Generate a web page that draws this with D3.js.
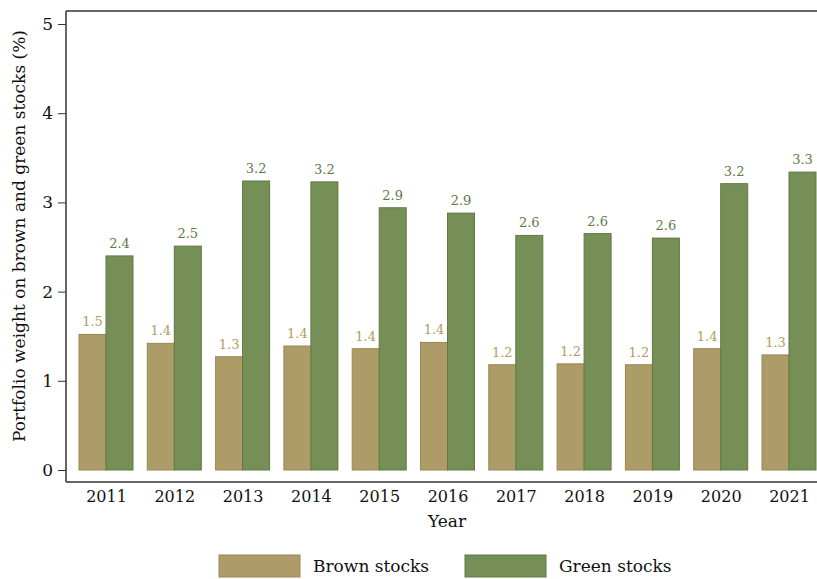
<!DOCTYPE html>
<html>
<head>
<meta charset="utf-8">
<script src="https://cdn.jsdelivr.net/npm/d3@7"></script>
<style>
  body { margin: 0; background: #fff; }
  text { font-family: "DejaVu Serif", "Liberation Serif", serif; }
</style>
</head>
<body>
<script>
// values
const years = ["2011", "2012", "2013", "2014", "2015", "2016", "2017", "2018", "2019", "2020", "2021"];
const brown = [1.52, 1.42, 1.27, 1.39, 1.36, 1.43, 1.18, 1.19, 1.18, 1.36, 1.29];
const green = [2.40, 2.51, 3.24, 3.23, 2.94, 2.88, 2.63, 2.65, 2.60, 3.21, 3.34];
const yTicks = [0, 1, 2, 3, 4, 5];

const width = 817, height = 579;
const brownFill = "#ad9c68", brownLine = "#9a8653", brownText = "#b39c62";
const greenFill = "#758f57", greenLine = "#5f7b40", greenText = "#5d7a42";

const svg = d3.select("body").append("svg")
  .attr("width", width)
  .attr("height", height);

const x = d3.scalePoint().domain(years).range([106, 789]);
const y = d3.scaleLinear().domain([0, 5]).range([470, 24]);
const barW = 27;
const fmt = d3.format(".1f");

// frame
svg.append("line").attr("x1", 66).attr("x2", width).attr("y1", 11).attr("y2", 11)
  .attr("stroke", "#333").attr("stroke-width", 1.5);
svg.append("line").attr("x1", 66).attr("x2", width).attr("y1", 482).attr("y2", 482)
  .attr("stroke", "#333").attr("stroke-width", 1.5);

// y axis
const yAxis = svg.append("g")
  .attr("transform", "translate(66,0)")
  .call(d3.axisLeft(y).tickValues(yTicks).tickFormat(d3.format("d")).tickSize(8).tickPadding(5));
yAxis.select(".domain").attr("d", "M0,11V482").attr("stroke", "#333").attr("stroke-width", 1.5);
yAxis.selectAll(".tick line").attr("stroke", "#333");
yAxis.selectAll(".tick text")
  .attr("font-family", "DejaVu Serif")
  .attr("font-size", 17).attr("fill", "#111");

// x axis labels
const xAxis = svg.append("g")
  .attr("transform", "translate(0,482)")
  .call(d3.axisBottom(x).tickSize(0).tickPadding(9));
xAxis.select(".domain").remove();
xAxis.selectAll(".tick text")
  .attr("font-family", "DejaVu Serif")
  .attr("font-size", 16).attr("fill", "#111");

// bars
const groups = svg.append("g").selectAll("g")
  .data(years)
  .join("g");

groups.append("rect")
  .attr("x", d => x(d) - barW)
  .attr("y", (d, i) => y(brown[i]))
  .attr("width", barW)
  .attr("height", (d, i) => y(0) - y(brown[i]))
  .attr("fill", brownFill).attr("stroke", brownLine).attr("stroke-width", 1);

groups.append("rect")
  .attr("x", d => x(d))
  .attr("y", (d, i) => y(green[i]))
  .attr("width", barW)
  .attr("height", (d, i) => y(0) - y(green[i]))
  .attr("fill", greenFill).attr("stroke", greenLine).attr("stroke-width", 1);

groups.append("text")
  .attr("x", d => x(d) - barW / 2)
  .attr("y", (d, i) => y(brown[i]) - 8)
  .attr("text-anchor", "middle")
  .attr("font-size", 13).attr("fill", brownText)
  .text((d, i) => fmt(brown[i]));

groups.append("text")
  .attr("x", d => x(d) + barW / 2)
  .attr("y", (d, i) => y(green[i]) - 8)
  .attr("text-anchor", "middle")
  .attr("font-size", 13).attr("fill", greenText)
  .text((d, i) => fmt(green[i]));

// axis titles
svg.append("text")
  .attr("transform", "translate(25,236) rotate(-90)")
  .attr("text-anchor", "middle")
  .attr("font-size", 17).attr("fill", "#111")
  .text("Portfolio weight on brown and green stocks (%)");

svg.append("text")
  .attr("x", 447).attr("y", 527)
  .attr("text-anchor", "middle")
  .attr("font-size", 17).attr("fill", "#111")
  .text("Year");

// legend
const legend = [
  { name: "Brown stocks", fill: brownFill, line: brownLine, x: 219 },
  { name: "Green stocks", fill: greenFill, line: greenLine, x: 465 }
];
const lg = svg.append("g").selectAll("g").data(legend).join("g")
  .attr("transform", d => "translate(" + d.x + ",555)");
lg.append("rect")
  .attr("width", 81).attr("height", 22)
  .attr("fill", d => d.fill).attr("stroke", d => d.line);
lg.append("text")
  .attr("x", 94).attr("y", 17)
  .attr("font-size", 17).attr("fill", "#111")
  .text(d => d.name);
</script>
</body>
</html>
